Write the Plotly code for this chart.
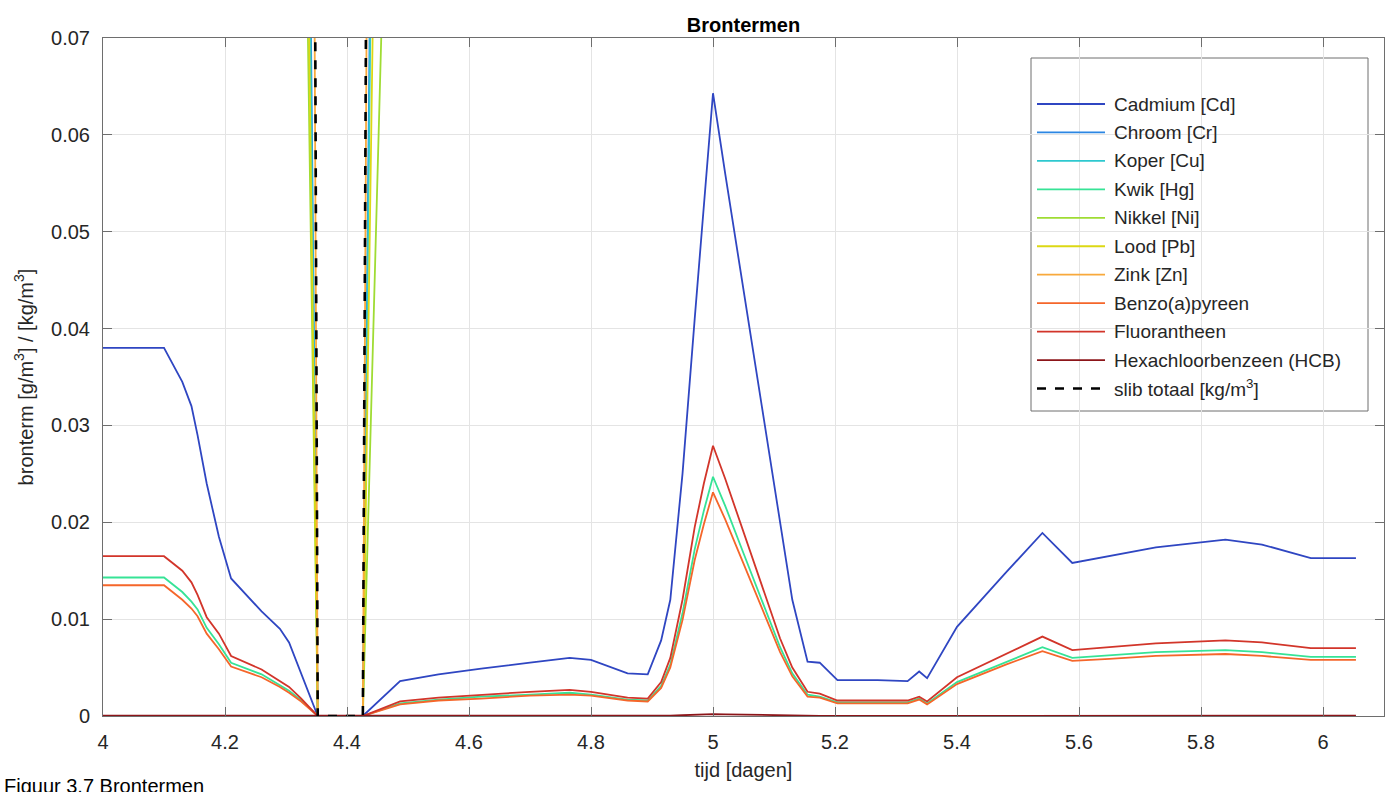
import plotly.graph_objects as go

# ---- data -------------------------------------------------------------
tijd = [4.00, 4.10, 4.13, 4.145, 4.155, 4.17, 4.19, 4.21, 4.26, 4.29,
        4.305, 4.325, 4.352, 4.426, 4.487, 4.55, 4.62, 4.70, 4.765, 4.80,
        4.86, 4.893, 4.915, 4.93, 4.95, 4.97, 4.985, 5.00, 5.02, 5.05,
        5.08, 5.11, 5.13, 5.155, 5.175, 5.204, 5.27, 5.319, 5.338, 5.351,
        5.40, 5.48, 5.54, 5.589, 5.65, 5.726, 5.84, 5.90, 5.98, 6.054]

cadmium = [0.0380, 0.0380, 0.0345, 0.0320, 0.0290, 0.0240, 0.0185, 0.0142, 0.0108, 0.0090,
           0.0076, 0.0044, 0.0, 0.0, 0.0036, 0.0043, 0.0049, 0.0055, 0.0060, 0.0058,
           0.0044, 0.0043, 0.0078, 0.0120, 0.0250, 0.0410, 0.0530, 0.0643, 0.0560, 0.0440,
           0.0320, 0.0200, 0.0120, 0.0056, 0.0055, 0.0037, 0.0037, 0.0036, 0.0046, 0.0039,
           0.0092, 0.0148, 0.0189, 0.0158, 0.0165, 0.0174, 0.0182, 0.0177, 0.0163, 0.0163]

kwik = [0.0143, 0.0143, 0.0128, 0.0118, 0.0110, 0.0091, 0.0074, 0.0055, 0.0043, 0.0032,
        0.0026, 0.0016, 0.0, 0.0, 0.0013, 0.0017, 0.0020, 0.0022, 0.0024, 0.0022,
        0.0017, 0.0016, 0.0031, 0.0053, 0.0106, 0.0172, 0.0212, 0.0247, 0.0217, 0.0168,
        0.0119, 0.0071, 0.0044, 0.0022, 0.0020, 0.0014, 0.0014, 0.0014, 0.0018, 0.0013,
        0.0035, 0.0056, 0.0071, 0.0060, 0.0063, 0.0066, 0.0068, 0.0066, 0.0061, 0.0061]

benzo_a_pyreen = [0.0135, 0.0135, 0.0120, 0.0111, 0.0103, 0.0085, 0.0069, 0.0051, 0.0040, 0.0030,
                  0.0024, 0.0015, 0.0, 0.0, 0.0012, 0.0016, 0.0018, 0.0021, 0.0022, 0.0021,
                  0.0016, 0.0015, 0.0029, 0.0050, 0.0099, 0.0161, 0.0198, 0.0231, 0.0203, 0.0157,
                  0.0112, 0.0066, 0.0041, 0.0020, 0.0019, 0.0013, 0.0013, 0.0013, 0.0017, 0.0012,
                  0.0033, 0.0053, 0.0067, 0.0057, 0.0059, 0.0062, 0.0064, 0.0062, 0.0058, 0.0058]

fluorantheen = [0.0165, 0.0165, 0.0150, 0.0138, 0.0125, 0.0102, 0.0085, 0.0062, 0.0048, 0.0036,
                0.0030, 0.0018, 0.0, 0.0, 0.0015, 0.0019, 0.0022, 0.0025, 0.0027, 0.0025,
                0.0019, 0.0018, 0.0035, 0.0060, 0.0120, 0.0195, 0.0240, 0.0279, 0.0245, 0.0190,
                0.0135, 0.0080, 0.0050, 0.0025, 0.0023, 0.0016, 0.0016, 0.0016, 0.0020, 0.0015,
                0.0040, 0.0064, 0.0082, 0.0068, 0.0071, 0.0075, 0.0078, 0.0076, 0.0070, 0.0070]

hcb = [0.00004, 0.00004, 0.00004, 0.00003, 0.00003, 0.00003, 0.00002, 0.00002, 0.00002, 0.00001,
       0.00001, 0.00001, 0.0, 0.0, 0.00001, 0.00001, 0.00001, 0.00002, 0.00002, 0.00002,
       0.00001, 0.00001, 0.00002, 0.00004, 0.00008, 0.00013, 0.00016, 0.00020, 0.00017, 0.00013,
       0.00009, 0.00005, 0.00003, 0.00002, 0.00002, 0.00001, 0.00001, 0.00001, 0.00001, 0.00001,
       0.00002, 0.00004, 0.00005, 0.00004, 0.00004, 0.00005, 0.00005, 0.00005, 0.00004, 0.00004]

# the high-concentration series are sampled on a coarser time grid
tijd_grof = [4.00, 4.10, 4.21, 4.305, 4.325, 4.352, 4.426, 4.46, 4.55,
             4.765, 4.893, 5.00, 5.155, 5.319, 5.54, 5.84, 6.054]

chroom = [1.55, 1.55, 0.58, 0.31, 0.172, 0.0, 0.0, 0.216, 0.25, 0.35, 0.25, 3.5, 0.32, 0.21, 1.10, 1.06, 0.95]
koper = [1.40, 1.40, 0.53, 0.28, 0.158, 0.0, 0.0, 0.198, 0.23, 0.32, 0.23, 3.2, 0.29, 0.19, 1.00, 0.97, 0.87]
nikkel = [1.05, 1.05, 0.40, 0.21, 0.118, 0.0, 0.0, 0.079, 0.17, 0.24, 0.17, 2.4, 0.22, 0.14, 0.74, 0.72, 0.65]
lood = [1.20, 1.20, 0.46, 0.24, 0.135, 0.0, 0.0, 0.149, 0.19, 0.27, 0.19, 2.7, 0.25, 0.16, 0.85, 0.82, 0.74]
zink = [3.40, 3.40, 1.30, 0.68, 0.378, 0.0, 0.0, 0.397, 0.55, 0.77, 0.55, 7.6, 0.70, 0.46, 2.40, 2.30, 2.10]
slib_totaal = [4.20, 4.20, 1.60, 0.85, 0.470, 0.0, 0.0, 0.476, 0.68, 0.95, 0.68, 9.5, 0.88, 0.57, 3.00, 2.90, 2.60]

namen = ["Cadmium [Cd]", "Chroom [Cr]", "Koper [Cu]", "Kwik [Hg]", "Nikkel [Ni]",
         "Lood [Pb]", "Zink [Zn]", "Benzo(a)pyreen", "Fluorantheen",
         "Hexachloorbenzeen (HCB)", "slib totaal [kg/m<sup>3</sup>]"]
kleuren = ["#2f46c2", "#2b86e3", "#2ec8cf", "#36e396", "#9fdc33",
           "#dcd814", "#f8a93c", "#f5662a", "#d2352a", "#8c1519", "#000000"]

x_ticks = [4.0, 4.2, 4.4, 4.6, 4.8, 5.0, 5.2, 5.4, 5.6, 5.8, 6.0]
x_labels = ["4", "4.2", "4.4", "4.6", "4.8", "5", "5.2", "5.4", "5.6", "5.8", "6"]
y_ticks = [0, 0.01, 0.02, 0.03, 0.04, 0.05, 0.06, 0.07]
y_labels = ["0", "0.01", "0.02", "0.03", "0.04", "0.05", "0.06", "0.07"]

series = [
    (tijd, cadmium), (tijd_grof, chroom), (tijd_grof, koper), (tijd, kwik),
    (tijd_grof, nikkel), (tijd_grof, lood), (tijd_grof, zink),
    (tijd, benzo_a_pyreen), (tijd, fluorantheen), (tijd, hcb), (tijd_grof, slib_totaal),
]

# ---- figure -----------------------------------------------------------
W, H = 1395, 792
L, R, T, B = 103, 1384, 38, 716          # plot area in pixels
FONT = "Liberation Sans, Arial, Helvetica, sans-serif"
TXT = "#262626"


def px(x):
    return (x - L) / (R - L)


def py(y):
    return (B - y) / (B - T)


fig = go.Figure()
for i, ((xs, ys), naam, kleur) in enumerate(zip(series, namen, kleuren)):
    dash = "dash" if i == len(series) - 1 else "solid"
    fig.add_trace(go.Scatter(
        x=xs, y=ys, mode="lines", name=naam, showlegend=False,
        line=dict(color=kleur, width=2.6 if dash == "dash" else 1.8, dash=dash),
    ))

axis_common = dict(
    showline=True, linecolor="#6e6e6e", linewidth=1, mirror="allticks",
    ticks="inside", ticklen=9, tickcolor="#6e6e6e", tickwidth=1,
    showgrid=True, gridcolor="#e4e4e4", gridwidth=1, zeroline=False,
    tickfont=dict(family=FONT, size=20, color=TXT),
    ticklabelstandoff=8,
)

fig.update_layout(
    width=W, height=H,
    margin=dict(l=L, r=W - R, t=T, b=H - B),
    paper_bgcolor="white", plot_bgcolor="white",
    font=dict(family=FONT, color=TXT),
    title=dict(text="<b>Brontermen</b>", x=0.5, xref="paper", xanchor="center",
               y=1 - 25 / H, yref="container", yanchor="middle",
               font=dict(family=FONT, size=20, color="#000000")),
    xaxis=dict(range=[4.0, 6.1], tickvals=x_ticks, ticktext=x_labels,
               title=dict(text="tijd [dagen]", standoff=10,
                          font=dict(family=FONT, size=20, color=TXT)),
               **axis_common),
    yaxis=dict(range=[0, 0.07], tickvals=y_ticks, ticktext=y_labels,
               title=dict(text="bronterm [g/m<sup>3</sup>] / [kg/m<sup>3</sup>]", standoff=12,
                          font=dict(family=FONT, size=20, color=TXT)),
               **axis_common),
    showlegend=False,
)

# ---- legend box -------------------------------------------------------
box_l, box_t, box_r, box_b = 1031, 58, 1368, 411
fig.add_shape(type="rect", xref="paper", yref="paper",
              x0=px(box_l), x1=px(box_r), y0=py(box_b), y1=py(box_t),
              line=dict(color="#6e6e6e", width=1), fillcolor="white", layer="between")

entry_y0, entry_step = 104, 28.45
for i, (naam, kleur) in enumerate(zip(namen, kleuren)):
    yy = entry_y0 + i * entry_step
    dash = "dash" if i == len(namen) - 1 else "solid"
    fig.add_shape(type="line", xref="paper", yref="paper",
                  x0=px(1037), x1=px(1105), y0=py(yy), y1=py(yy),
                  line=dict(color=kleur, width=2.4 if dash == "dash" else 1.8, dash=dash),
                  layer="above")
    fig.add_annotation(xref="paper", yref="paper", x=px(1112), y=py(yy),
                       xanchor="left", yanchor="middle", showarrow=False,
                       text=naam, font=dict(family=FONT, size=19, color=TXT))

# figure caption at the bottom of the page
fig.add_annotation(xref="paper", yref="paper", x=px(2), y=py(773),
                   xanchor="left", yanchor="top", showarrow=False,
                   text="Figuur 3.7 Brontermen",
                   font=dict(family=FONT, size=20, color="#000000"))

fig.write_html("out.html")
